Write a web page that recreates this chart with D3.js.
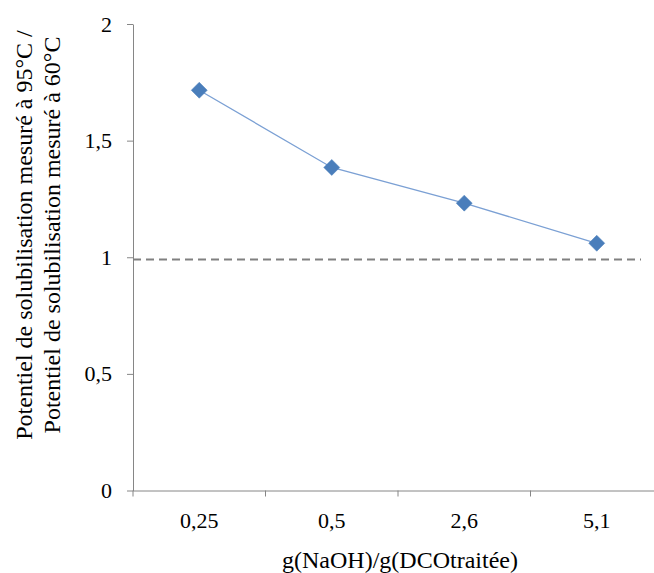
<!DOCTYPE html>
<html><head><meta charset="utf-8">
<script src="https://cdn.jsdelivr.net/npm/d3@7"></script>
<style>body{margin:0;background:#fff}svg{display:block} text{font-family:"Liberation Serif","Times New Roman",serif !important;}</style>
</head><body>
<script>
const categories = ["0,25", "0,5", "2,6", "5,1"];
const values = [1.716, 1.385, 1.232, 1.06];
const refValue = 0.99;
const yTicks = [0, 0.5, 1, 1.5, 2];
const yTickLabels = ["0", "0,5", "1", "1,5", "2"];

(function(){
const W = 654, H = 573;
const mLeft = 133, mRight = 663, mTop = 24, mBottom = 490.5;
const svg = d3.select("body").append("svg").attr("width", W).attr("height", H);

const x = d3.scaleBand().domain(categories).range([mLeft, mRight]).padding(0);
const y = d3.scaleLinear().domain([0, 2]).range([mBottom, mTop]);
const axisColor = "#868686";

// y axis
const yAxis = svg.append("g").attr("transform", `translate(${mLeft},0)`)
  .call(d3.axisLeft(y).tickValues(yTicks).tickFormat((d,i)=>yTickLabels[i]).tickSize(6).tickSizeOuter(0));
yAxis.select(".domain").attr("stroke", axisColor);
yAxis.selectAll(".tick line").attr("stroke", axisColor);
yAxis.selectAll(".tick text").attr("font-size", 22).attr("fill", "#000").attr("x", -21);

// x axis
const xAxis = svg.append("g").attr("transform", `translate(0,${mBottom})`)
  .call(d3.axisBottom(x).tickSize(0).tickSizeOuter(0));
xAxis.select(".domain").attr("stroke", axisColor).attr("d", `M${mLeft},0.5H${W}`);
xAxis.selectAll(".tick text").attr("font-size", 22).attr("fill", "#000").attr("dy", "0").attr("y", 37);
// category boundary ticks
svg.append("g").selectAll("line").data(categories).join("line")
  .attr("x1", d => x(d)).attr("x2", d => x(d))
  .attr("y1", mBottom).attr("y2", mBottom + 6)
  .attr("stroke", axisColor);

// dashed reference line
svg.append("line").attr("x1", mLeft).attr("x2", 641)
  .attr("y1", y(refValue)).attr("y2", y(refValue))
  .attr("stroke", "#808080").attr("stroke-width", 2).attr("stroke-dasharray", "8,5");

// series line
const pts = categories.map((c,i)=>({c, v: values[i]}));
svg.append("path").datum(pts)
  .attr("d", d3.line().x(d => x(d.c) + x.bandwidth()/2).y(d => y(d.v)))
  .attr("fill", "none").attr("stroke", "#7ba0d4").attr("stroke-width", 1.3);

svg.append("g").selectAll("path").data(pts).join("path")
  .attr("transform", d => `translate(${x(d.c) + x.bandwidth()/2},${y(d.v)})`)
  .attr("d", "M0,-8L8,0L0,8L-8,0Z")
  .attr("fill", "#4a7ebb").attr("stroke", "#4a7ebb").attr("stroke-width", 0.5);

// axis titles
const yt = svg.append("text").attr("transform", `translate(32,235) rotate(-90)`)
  .attr("text-anchor", "middle").attr("font-size", 24).attr("fill", "#000");
yt.append("tspan").attr("x", 0).attr("dy", 0).text("Potentiel de solubilisation mesuré à 95°C /");
yt.append("tspan").attr("x", 0).attr("dy", 28).text("Potentiel de solubilisation mesuré à 60°C");

svg.append("text").attr("x", 400).attr("y", 568).attr("text-anchor", "middle")
  .attr("font-size", 24).attr("fill", "#000").text("g(NaOH)/g(DCOtraitée)");
})();
</script>
</body></html>
